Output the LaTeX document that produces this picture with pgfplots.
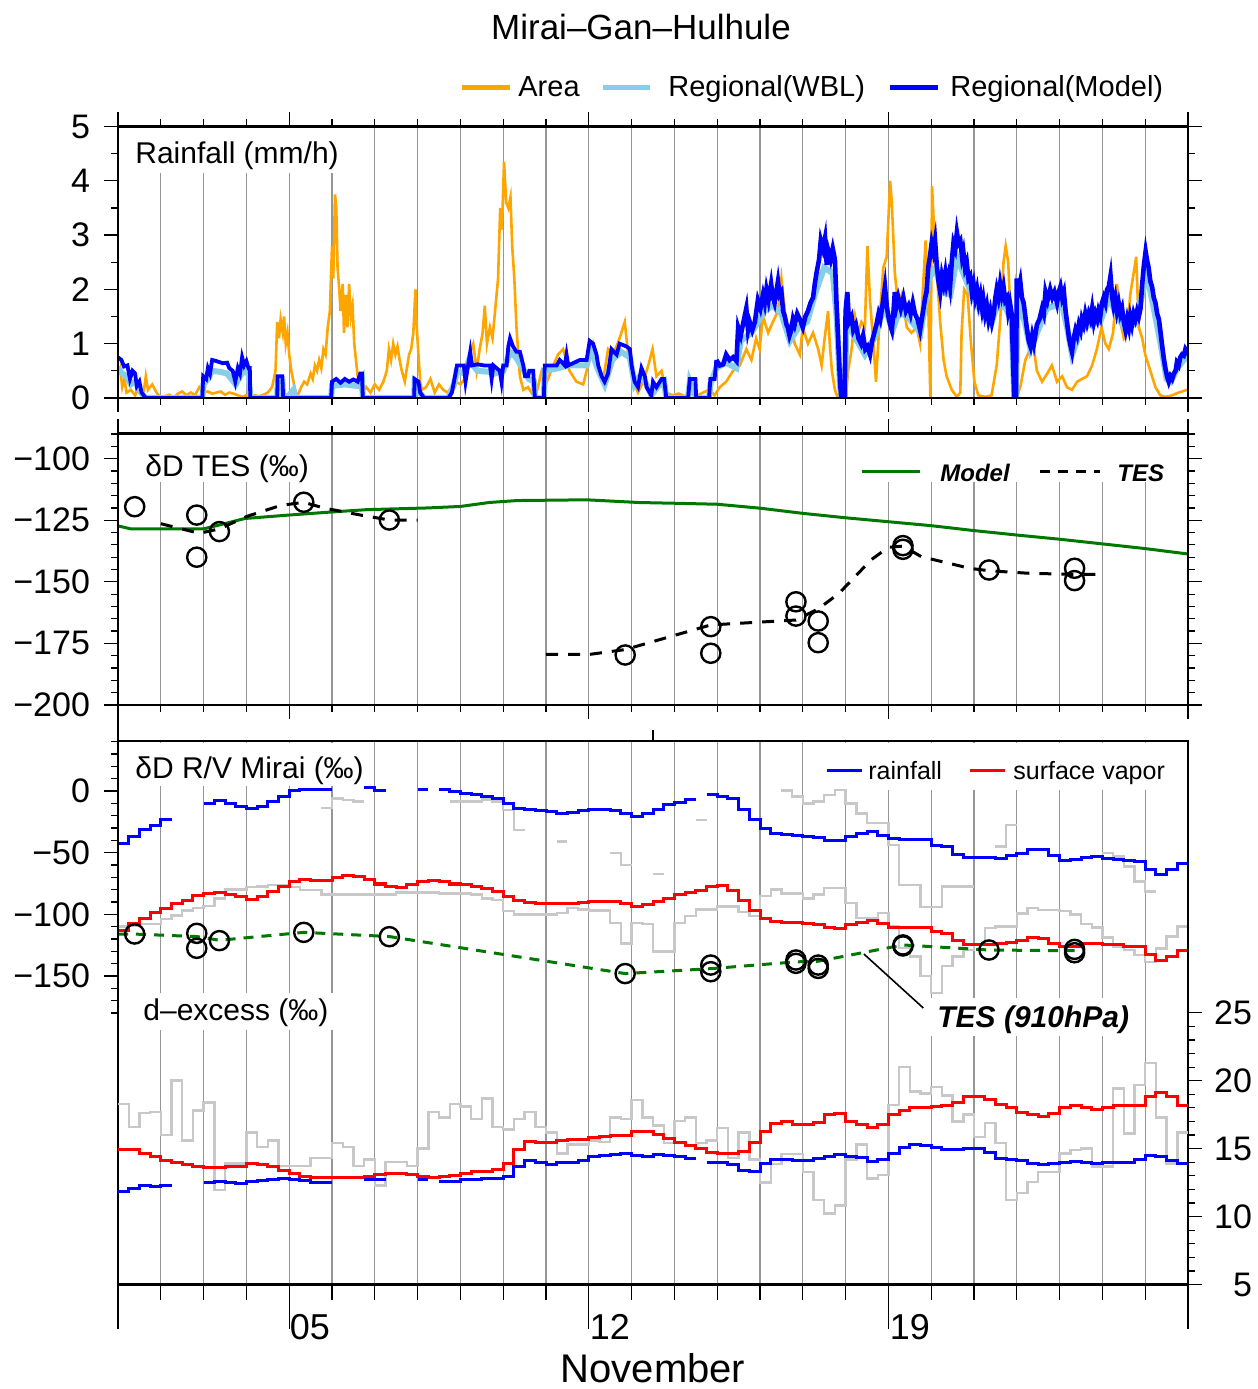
\documentclass[border=0pt]{standalone}
\usepackage{pgfplots}
\pgfplotsset{compat=1.18}
\usepackage{pgfplotstable}
\usepackage{fontspec}
\setmainfont{Liberation Sans}

\definecolor{cArea}{RGB}{255,165,0}
\definecolor{cWBL}{RGB}{135,206,235}
\definecolor{cModel}{RGB}{0,0,255}
\definecolor{cRed}{RGB}{255,0,0}
\definecolor{cGreen}{RGB}{0,120,0}
\definecolor{cGrid}{RGB}{150,150,150}
\definecolor{cLight}{RGB}{200,200,200}

\newcommand{\fsz}[1]{\fontsize{#1}{#1}\selectfont}
\tikzset{gridline/.style={cGrid, line width=0.6pt}}

% ---------------- rainfall (mm/h) ----------------
\pgfplotstableread{
x y
1.00 0.45
1.05 0.55
1.10 0.20
1.15 0.35
1.20 0.10
1.30 0.15
1.40 0.05
1.50 0.20
1.60 0.10
1.65 0.40
1.70 0.15
1.80 0.25
1.90 0.10
2.00 0.00
2.10 0.03
2.20 0.06
2.30 0.00
2.40 0.08
2.50 0.12
2.60 0.05
2.70 0.10
2.80 0.05
2.90 0.20
3.00 0.10
3.10 0.12
3.20 0.08
3.30 0.10
3.40 0.12
3.50 0.06
3.60 0.10
3.70 0.08
3.80 0.05
3.90 0.02
4.00 0.05
4.10 0.02
4.20 0.05
4.30 0.03
4.40 0.06
4.50 0.10
4.60 0.20
4.68 0.50
4.72 1.40
4.76 1.10
4.80 1.45
4.85 1.20
4.88 1.50
4.92 1.00
4.96 1.20
5.00 0.80
5.05 0.50
5.10 0.30
5.15 0.10
5.20 0.05
5.28 0.20
5.35 0.30
5.42 0.25
5.50 0.45
5.55 0.35
5.60 0.60
5.65 0.50
5.70 0.70
5.75 0.55
5.80 0.90
5.85 0.80
5.90 1.30
5.95 1.60
6.00 2.80
6.03 2.20
6.07 3.75
6.10 3.50
6.13 2.40
6.17 2.00
6.20 1.60
6.25 2.10
6.28 1.20
6.32 1.90
6.36 1.30
6.40 2.10
6.44 1.50
6.48 1.70
6.52 1.00
6.56 0.70
6.60 0.40
6.65 0.20
6.70 0.10
6.80 0.20
6.90 0.10
7.00 0.25
7.10 0.15
7.20 0.30
7.28 0.50
7.33 0.90
7.38 0.70
7.43 1.00
7.48 0.80
7.53 0.95
7.58 0.70
7.63 0.50
7.70 0.30
7.75 0.55
7.80 0.80
7.85 0.90
7.90 1.20
7.95 2.00
7.98 1.30
8.02 0.80
8.06 0.30
8.10 0.15
8.20 0.20
8.30 0.35
8.40 0.10
8.50 0.25
8.60 0.15
8.70 0.10
8.80 0.20
8.90 0.30
9.00 0.25
9.10 0.35
9.20 0.60
9.25 0.90
9.30 1.00
9.38 0.50
9.45 0.90
9.52 1.20
9.57 1.70
9.62 1.00
9.69 1.30
9.75 1.10
9.81 1.60
9.88 2.20
9.93 3.50
9.97 3.10
10.02 4.35
10.07 3.60
10.12 3.50
10.17 3.70
10.21 2.80
10.26 2.20
10.31 1.30
10.39 0.40
10.47 0.15
10.58 0.20
10.70 0.05
10.78 0.10
10.90 0.50
11.02 0.30
11.17 0.60
11.28 0.80
11.40 0.90
11.55 0.50
11.71 0.30
11.87 0.25
11.98 0.60
12.10 1.00
12.22 0.60
12.33 0.30
12.45 0.90
12.57 0.80
12.72 1.10
12.84 1.40
12.92 0.80
13.04 0.30
13.15 0.10
13.27 0.30
13.39 0.60
13.49 0.90
13.58 0.40
13.70 0.50
13.81 0.10
13.95 0.05
14.10 0.08
14.25 0.03
14.40 0.08
14.55 0.05
14.67 0.10
14.82 0.15
14.94 0.05
15.06 0.20
15.21 0.30
15.37 0.50
15.53 0.60
15.68 0.90
15.80 0.70
15.91 1.10
15.99 0.90
16.07 1.50
16.19 1.20
16.30 1.40
16.42 1.60
16.50 2.20
16.58 1.60
16.65 1.20
16.73 1.40
16.81 1.00
16.93 0.80
17.00 1.30
17.12 1.00
17.24 1.20
17.36 0.90
17.44 0.60
17.51 1.10
17.59 1.60
17.63 1.00
17.68 0.50
17.75 0.15
17.82 0.00
17.90 0.02
17.96 0.10
18.00 0.00
18.06 0.50
18.14 0.90
18.22 1.50
18.29 1.20
18.37 1.40
18.45 1.30
18.51 2.80
18.57 1.80
18.65 1.00
18.71 0.30
18.80 1.50
18.88 2.40
18.96 2.60
19.04 4.00
19.08 3.60
19.15 2.30
19.23 1.70
19.31 1.90
19.43 1.30
19.54 1.20
19.66 1.30
19.74 1.00
19.82 2.20
19.87 2.90
19.93 1.80
19.98 0.00
20.02 3.90
20.08 2.90
20.14 2.20
20.21 1.40
20.29 0.70
20.36 0.40
20.48 0.15
20.60 0.02
20.68 0.10
20.71 1.20
20.77 2.00
20.85 1.90
20.93 1.00
21.01 0.30
21.10 0.05
21.26 0.02
21.41 0.05
21.53 0.60
21.61 1.40
21.69 2.50
21.74 2.80
21.80 2.50
21.87 1.20
21.92 0.30
22.00 0.02
22.08 0.20
22.20 0.70
22.31 0.90
22.39 0.95
22.47 0.50
22.59 0.30
22.71 0.45
22.82 0.60
22.94 0.30
23.06 0.40
23.17 0.20
23.29 0.15
23.41 0.30
23.52 0.35
23.64 0.40
23.76 0.60
23.87 0.90
23.98 1.30
24.07 1.00
24.15 0.90
24.25 1.20
24.34 2.10
24.42 1.40
24.50 1.10
24.58 1.20
24.65 1.90
24.73 2.30
24.79 2.60
24.85 1.30
24.93 1.10
25.00 0.80
25.12 0.50
25.24 0.20
25.35 0.05
25.47 0.02
25.63 0.05
25.78 0.10
25.98 0.15
}\areaTab

\pgfplotstableread{
x y
1.00 0.55
1.10 0.45
1.20 0.40
1.30 0.25
1.40 0.30
1.50 0.15
1.60 0.03
1.65 0.00
2.97 0.00
3.00 0.25
3.10 0.35
3.20 0.50
3.40 0.48
3.55 0.45
3.65 0.35
3.75 0.25
3.85 0.40
3.95 0.50
4.05 0.45
4.09 0.00
4.72 0.00
4.73 0.30
4.84 0.30
4.86 0.00
5.00 0.05
5.10 0.15
5.15 0.00
5.98 0.00
6.00 0.22
6.30 0.25
6.60 0.22
6.70 0.35
6.72 0.00
7.92 0.00
7.93 0.25
8.05 0.10
8.15 0.00
8.72 0.00
8.85 0.25
8.92 0.50
9.10 0.45
9.20 0.70
9.40 0.50
9.70 0.48
9.80 0.45
10.00 0.50
10.16 0.85
10.30 0.75
10.45 0.55
10.60 0.35
10.72 0.30
10.74 0.00
10.95 0.00
10.97 0.50
11.30 0.55
11.50 0.60
11.95 0.60
12.05 0.90
12.20 0.55
12.37 0.25
12.55 0.70
12.75 0.85
12.96 0.75
13.07 0.25
13.23 0.45
13.46 0.05
13.60 0.20
13.76 0.30
13.81 0.00
14.32 0.00
14.36 0.30
14.51 0.00
14.81 0.00
14.84 0.25
14.98 0.55
15.20 0.65
15.45 0.55
15.55 1.05
15.80 1.20
16.10 1.60
16.30 1.70
16.50 1.55
16.70 1.05
16.90 1.30
17.10 1.40
17.30 1.95
17.50 2.40
17.70 2.30
17.79 1.50
17.87 0.20
17.90 0.00
17.98 0.00
18.02 1.40
18.20 1.15
18.45 0.80
18.70 1.15
18.90 1.70
19.10 1.25
19.25 1.60
19.50 1.45
19.75 1.20
19.95 2.20
20.10 2.40
20.25 1.95
20.45 1.90
20.60 2.60
20.80 2.20
21.00 1.80
21.20 1.55
21.40 1.35
21.55 1.75
21.75 1.65
21.88 1.40
21.94 0.00
21.98 0.00
22.02 1.90
22.20 1.35
22.32 0.90
22.50 1.25
22.70 1.65
22.90 1.70
23.05 1.75
23.20 1.20
23.29 0.80
23.50 1.25
23.70 1.35
23.95 1.40
24.15 1.85
24.35 1.50
24.55 1.25
24.80 1.40
24.95 2.00
25.05 2.25
25.20 1.65
25.36 1.00
25.50 0.35
25.60 0.30
25.75 0.55
25.90 0.70
26.00 0.75
}\wblTab

\pgfplotstableread{
x y
1.00 0.75
1.08 0.70
1.14 0.58
1.22 0.60
1.28 0.35
1.34 0.50
1.40 0.45
1.44 0.22
1.50 0.30
1.55 0.10
1.60 0.05
1.65 0.00
2.97 0.00
2.99 0.40
3.06 0.35
3.10 0.55
3.15 0.45
3.20 0.70
3.30 0.68
3.45 0.64
3.55 0.65
3.60 0.55
3.68 0.50
3.74 0.30
3.80 0.55
3.85 0.45
3.90 0.75
3.95 0.60
4.00 0.68
4.05 0.55
4.08 0.55
4.09 0.00
4.72 0.00
4.73 0.40
4.84 0.40
4.86 0.00
5.98 0.00
6.00 0.30
6.10 0.35
6.20 0.28
6.30 0.35
6.40 0.30
6.50 0.34
6.60 0.30
6.66 0.45
6.70 0.45
6.72 0.00
7.92 0.00
7.93 0.35
8.02 0.30
8.06 0.10
8.15 0.00
8.72 0.00
8.80 0.10
8.85 0.30
8.92 0.60
9.08 0.60
9.12 0.30
9.18 0.60
9.23 0.85
9.27 0.60
9.40 0.62
9.55 0.60
9.69 0.60
9.73 0.35
9.77 0.60
9.92 0.50
9.96 0.30
10.00 0.60
10.08 0.60
10.12 0.95
10.16 1.10
10.23 0.95
10.31 0.85
10.39 0.85
10.47 0.60
10.51 0.40
10.58 0.40
10.61 0.50
10.70 0.50
10.74 0.00
10.95 0.00
10.97 0.60
11.25 0.60
11.32 0.70
11.44 0.60
11.48 0.80
11.52 0.60
11.79 0.70
11.95 0.70
12.02 1.05
12.10 1.00
12.18 0.80
12.22 0.60
12.30 0.40
12.37 0.30
12.45 0.45
12.53 0.90
12.65 0.80
12.72 1.00
12.88 0.95
12.96 0.90
13.00 0.60
13.07 0.30
13.15 0.20
13.23 0.55
13.31 0.40
13.35 0.20
13.46 0.05
13.50 0.30
13.58 0.20
13.70 0.35
13.76 0.35
13.81 0.00
14.32 0.00
14.36 0.35
14.49 0.35
14.51 0.00
14.81 0.00
14.84 0.35
14.94 0.35
14.98 0.70
}\modelTabA

\pgfplotstableread{
x y
14.98 0.70
15.06 0.60
15.14 0.62
15.21 0.80
15.29 0.70
15.37 0.75
15.45 0.68
15.49 1.30
15.55 1.15
15.60 1.35
15.68 1.65
15.72 1.25
15.76 1.40
15.82 1.25
15.88 1.40
15.95 1.80
16.01 1.65
16.07 1.90
16.11 1.75
16.15 2.00
16.20 1.80
16.26 2.10
16.30 1.85
16.34 1.75
16.42 2.15
16.46 1.90
16.50 1.95
16.54 1.60
16.58 1.50
16.62 1.35
16.65 1.30
16.69 1.15
16.73 1.25
16.77 1.45
16.81 1.35
16.87 1.55
16.93 1.45
17.00 1.30
17.06 1.50
17.12 1.60
17.18 1.75
17.24 1.85
17.28 2.10
17.32 2.30
17.38 2.55
17.42 2.90
17.47 2.75
17.52 2.95
17.56 2.45
17.60 2.70
17.65 2.55
17.70 2.75
17.75 2.55
17.79 1.70
17.83 1.00
17.87 0.30
17.90 0.00
17.98 0.00
18.00 1.60
18.04 1.95
18.08 1.40
18.14 1.50
18.18 1.25
18.24 1.35
18.30 1.10
18.36 1.00
18.41 1.15
18.46 0.90
18.51 0.95
18.57 0.80
18.62 1.05
18.67 1.20
18.72 1.35
18.77 1.55
18.81 1.45
18.86 1.70
18.92 2.05
18.96 1.70
19.00 1.50
19.04 1.35
19.08 1.25
19.12 1.60
19.15 1.95
19.19 1.70
19.23 1.85
19.29 1.65
19.35 1.85
19.41 1.60
19.47 1.70
19.52 1.55
19.57 1.75
19.62 1.55
19.68 1.45
19.74 1.25
19.78 1.45
19.82 1.65
19.86 1.85
19.89 1.95
19.93 2.40
19.97 2.60
20.01 2.85
20.05 2.70
20.09 2.90
20.13 2.45
20.17 2.15
20.21 1.95
20.25 2.25
20.29 2.10
20.33 2.30
20.36 2.10
20.40 2.25
20.44 2.05
20.48 2.50
20.52 2.85
20.56 2.75
20.60 3.05
20.64 2.85
20.68 2.90
20.72 2.60
20.75 2.70
20.79 2.40
20.83 2.50
20.87 2.20
20.91 2.25
20.95 1.95
20.99 2.10
21.03 1.85
21.07 2.00
21.11 1.75
21.15 1.90
21.19 1.65
21.22 1.80
21.26 1.55
21.30 1.70
21.34 1.45
21.38 1.60
21.42 1.40
21.46 1.55
21.50 1.85
21.53 2.00
21.57 1.85
21.61 2.10
21.65 1.90
21.69 2.05
21.73 1.80
21.77 1.85
21.80 1.60
21.84 1.75
21.88 1.55
21.92 0.50
21.94 0.00
21.98 0.00
22.00 2.20
22.04 2.00
22.08 2.15
22.12 1.85
22.16 1.75
22.20 1.50
22.24 1.25
22.28 1.05
22.32 0.95
22.36 1.15
22.40 1.00
22.44 1.20
22.47 1.35
22.53 1.45
22.59 1.65
22.63 1.55
22.67 1.95
22.72 1.80
22.78 2.00
22.83 1.85
22.88 1.95
22.94 1.75
22.98 1.95
23.02 2.05
23.06 1.85
23.10 1.95
23.14 1.60
23.18 1.35
23.22 1.10
23.26 0.95
23.29 0.85
23.33 1.10
23.37 1.25
23.41 1.15
23.45 1.35
23.49 1.25
23.52 1.45
23.56 1.35
23.60 1.55
23.64 1.40
23.68 1.55
23.72 1.45
23.76 1.65
23.80 1.40
23.84 1.55
23.88 1.45
23.91 1.60
23.95 1.50
23.99 1.75
24.03 1.85
24.07 1.75
24.11 2.00
24.15 2.05
24.19 2.25
24.23 1.85
24.26 1.70
24.30 1.85
24.34 1.60
24.38 1.75
24.42 1.55
24.46 1.65
24.50 1.40
24.54 1.25
24.58 1.45
24.62 1.30
24.65 1.50
24.69 1.35
24.73 1.55
24.77 1.45
24.81 1.60
24.85 1.50
24.89 1.65
24.93 2.10
24.97 2.45
25.01 2.70
25.04 2.55
25.08 2.40
25.12 2.15
25.16 2.05
25.20 1.85
25.24 1.75
25.28 1.55
25.32 1.45
25.36 1.20
25.39 1.00
25.43 0.75
25.47 0.55
25.51 0.40
25.55 0.30
25.59 0.40
25.63 0.35
25.67 0.45
25.71 0.50
25.74 0.65
25.78 0.60
25.82 0.75
25.86 0.80
25.90 0.78
25.94 0.90
25.98 0.85
26.00 0.90
}\modelTabB

% ---------------- dD TES (permil) ----------------
\pgfplotstableread{
x y
1.00 -127.3
1.30 -128.5
2.00 -128.5
3.00 -128.5
3.58 -126.0
3.96 -124.3
4.91 -123.0
5.86 -121.8
6.81 -120.7
8.24 -120.0
9.00 -119.4
9.67 -117.8
10.33 -117.0
11.95 -116.7
13.17 -117.8
14.00 -118.1
15.00 -118.5
16.00 -120.1
17.00 -122.2
18.00 -124.0
19.00 -125.6
20.00 -127.2
21.00 -129.2
22.00 -131.0
23.00 -132.7
24.00 -134.6
25.00 -136.5
26.00 -138.7
}\tesModelTab

\pgfplotstableread{
x y
2.00 -126.4
2.90 -130.3
3.37 -128.5
4.00 -123.5
4.80 -119.0
5.34 -117.7
5.80 -120.0
6.70 -123.0
7.34 -124.9
8.00 -124.9
9.50 nan
11.00 -179.5
12.00 -179.5
12.85 -177.5
14.85 -167.5
16.84 -165.5
17.36 -161.0
17.85 -154.6
18.60 -141.0
19.00 -136.0
19.34 -135.5
19.77 -139.8
20.90 -144.5
21.35 -145.5
22.25 -146.5
23.35 -147.0
24.00 -147.0
}\tesMeanTab

\pgfplotstableread{
x y
1.39 -119.5
2.84 -122.9
2.84 -140.0
3.37 -129.6
5.34 -117.7
7.34 -124.9
12.85 -179.7
14.85 -168.2
14.85 -179.0
16.84 -158.1
16.84 -163.9
17.36 -165.9
17.36 -174.7
19.34 -135.3
19.34 -136.8
21.35 -145.2
23.35 -144.5
23.35 -149.5
}\tesObsTab

% ---------------- dD R/V Mirai (permil) ----------------
\pgfplotstableread{
x y
1.00 -42.4
1.25 -37.0
1.50 -31.6
1.75 -27.6
2.00 -23.0
2.25 -23.0
2.50 nan
3.00 -10.0
3.25 -8.1
3.50 -10.0
3.75 -12.2
4.00 -14.3
4.25 -12.7
4.50 -8.6
4.75 -4.6
5.00 0.0
5.25 0.8
5.50 0.8
5.75 0.8
6.00 0.8
6.25 nan
6.75 3.0
7.00 0.0
7.25 0.0
7.50 nan
8.00 0.8
8.25 0.8
8.40 nan
8.50 0.8
8.75 -0.5
9.00 -1.9
9.25 -3.2
9.50 -4.6
9.75 -5.9
10.00 -10.0
10.25 -14.0
10.50 -15.4
10.75 -16.2
11.00 -16.7
11.25 -18.1
11.50 -17.5
11.75 -16.2
12.00 -15.4
12.25 -15.4
12.50 -16.2
12.75 -18.6
13.00 -20.3
13.25 -18.1
13.50 -15.4
13.75 -11.3
14.00 -9.5
14.25 -6.8
14.50 -6.8
14.60 nan
14.75 -3.2
15.00 -4.1
15.25 -5.9
15.50 -14.9
15.75 -23.5
16.00 -30.8
16.25 -34.3
16.50 -34.9
16.75 -35.7
17.00 -36.5
17.25 -37.6
17.50 -39.8
17.75 -40.3
18.00 -36.5
18.25 -34.3
18.50 -33.0
18.75 -35.7
19.00 -38.4
19.25 -39.2
19.50 -39.2
19.75 -39.2
20.00 -43.8
20.25 -45.1
20.50 -51.1
20.75 -53.8
21.00 -54.0
21.25 -54.0
21.50 -54.6
21.75 -52.7
22.00 -50.5
22.25 -47.8
22.50 -47.8
22.75 -51.9
23.00 -56.7
23.25 -55.9
23.50 -54.0
23.75 -53.2
24.00 -54.6
24.25 -55.9
24.50 -56.5
24.75 -57.2
25.00 -64.0
25.25 -67.3
25.50 -64.0
25.75 -58.6
26.00 -58.6
}\rainDTab

\pgfplotstableread{
x y
1.00 -112.7
1.25 -107.3
1.50 -103.2
1.75 -98.6
2.00 -95.1
2.25 -91.6
2.50 -88.4
2.75 -85.1
3.00 -83.0
3.25 -82.4
3.50 -84.3
3.75 -85.6
4.00 -87.8
4.25 -85.6
4.50 -81.6
4.75 -77.5
5.00 -73.5
5.25 -71.6
5.50 -72.2
5.75 -72.2
6.00 -70.0
6.25 -68.9
6.50 -69.5
6.75 -71.6
7.00 -75.4
7.25 -77.5
7.50 -78.1
7.75 -76.2
8.00 -73.5
8.25 -72.2
8.50 -73.5
8.75 -75.4
9.00 -76.2
9.25 -77.5
9.50 -78.9
9.75 -81.1
10.00 -85.6
10.25 -88.9
10.50 -90.6
10.75 -91.1
11.00 -91.1
11.25 -91.6
11.50 -91.1
11.75 -90.6
12.00 -89.7
12.25 -89.2
12.50 -89.7
12.75 -91.6
13.00 -93.8
13.25 -92.4
13.50 -89.7
13.75 -87.0
14.00 -84.3
14.25 -82.4
14.50 -80.3
14.75 -77.5
15.00 -77.0
15.25 -80.3
15.50 -88.4
15.75 -96.5
16.00 -103.2
16.25 -105.9
16.50 -106.7
16.75 -106.7
17.00 -107.3
17.25 -108.6
17.50 -110.5
17.75 -111.3
18.00 -108.1
18.25 -106.7
18.50 -105.1
18.75 -107.3
19.00 -110.5
19.25 -110.5
19.50 -110.5
19.75 -110.5
20.00 -114.0
20.25 -115.9
20.50 -121.3
20.75 -124.8
21.00 -124.8
21.25 -124.8
21.50 -123.5
21.75 -122.9
22.00 -120.8
22.25 -118.6
22.50 -119.4
22.75 -123.5
23.00 -126.2
23.25 -126.2
23.50 -124.0
23.75 -124.0
24.00 -124.8
24.25 -124.8
24.50 -126.2
24.75 -126.2
25.00 -132.2
25.25 -137.0
25.50 -133.8
25.75 -128.9
26.00 -128.9
}\vapDTab

\pgfplotstableread{
x y
5.75 -14.0
6.00 -6.0
6.25 -7.5
6.50 -8.5
6.75 -8.5
6.80 nan
8.75 -8.6
9.00 -8.6
9.25 -8.6
9.50 -7.0
9.75 -8.6
10.00 -15.4
10.25 -31.6
10.50 -31.6
10.60 nan
11.25 -41.0
11.50 -41.0
11.60 nan
12.50 -50.5
12.75 -60.0
13.00 -60.0
13.10 nan
13.50 -67.3
13.75 -67.3
13.80 nan
14.50 -23.5
14.75 -23.5
14.80 nan
16.50 0.3
16.75 -4.6
17.00 -10.0
17.25 -8.6
17.50 -3.2
17.75 0.8
18.00 -10.0
18.25 -18.1
18.50 -26.2
18.75 -26.2
19.00 -43.8
19.25 -76.2
19.50 -76.2
19.75 -93.8
20.00 -93.8
20.25 -77.5
20.50 -77.5
20.75 -77.5
21.00 -77.5
21.10 nan
21.50 -45.1
21.75 -27.6
22.00 -27.6
22.10 nan
24.00 -50.5
24.25 -53.2
24.50 -61.3
24.75 -73.5
25.00 -81.6
25.25 -81.6
}\grayRainDTab

\pgfplotstableread{
x y
1.00 -110.0
1.25 -109.0
1.50 -108.0
1.75 -108.0
2.00 -104.0
2.25 -101.0
2.50 -97.0
2.75 -95.0
3.00 -93.0
3.25 -87.0
3.50 -80.0
3.75 -79.7
4.00 -78.0
4.25 -77.5
4.50 -76.2
4.75 -76.2
5.00 -78.0
5.25 -80.3
5.50 -80.3
5.75 -83.8
6.00 -83.8
6.50 -83.8
7.00 -83.8
7.50 -82.4
8.00 -82.4
8.50 -83.0
9.00 -83.0
9.25 -84.0
9.50 -87.0
9.75 -88.4
10.00 -97.3
10.25 -100.0
10.50 -100.0
10.75 -100.0
11.00 -100.0
11.25 -99.0
11.50 -95.0
11.75 -96.0
12.00 -97.0
12.25 -97.0
12.50 -107.0
12.75 -123.5
13.00 -107.0
13.25 -108.0
13.50 -130.0
13.75 -130.0
14.00 -107.0
14.25 -101.5
14.50 -96.0
14.75 -96.0
15.00 -93.5
15.25 -93.5
15.50 -98.0
15.75 -101.5
16.00 -85.0
16.25 -80.0
16.50 -83.0
16.75 -83.0
17.00 -87.0
17.25 -84.0
17.50 -78.5
17.75 -78.5
18.00 -90.7
18.25 -102.9
18.50 -102.9
18.75 -99.0
19.00 -110.0
19.25 -127.5
19.50 -134.0
19.75 -150.0
20.00 -163.9
20.25 -142.0
20.50 -134.0
20.75 -129.0
21.00 -125.0
21.25 -111.0
21.50 -110.0
21.75 -110.0
22.00 -99.2
22.25 -95.0
22.50 -96.3
22.75 -96.3
23.00 -97.5
23.25 -100.0
23.50 -108.0
23.75 -110.5
24.00 -118.6
24.25 -126.7
24.50 -129.0
24.75 -133.0
25.00 -138.5
25.25 -127.6
25.50 -118.0
25.75 -110.0
26.00 -110.0
}\grayVapDTab

\pgfplotstableread{
x y
1.00 -116.0
1.39 -116.0
2.84 -118.0
3.37 -121.0
5.34 -114.6
7.34 -118.0
12.85 -148.0
14.85 -144.0
16.84 -138.5
17.36 -138.0
19.34 -124.8
21.35 -128.9
23.35 -129.5
}\tesLowTab

\pgfplotstableread{
x y
1.39 -115.9
2.84 -115.4
2.84 -127.5
3.37 -121.3
5.34 -114.6
7.34 -118.1
12.85 -148.0
14.85 -141.1
14.85 -146.5
16.84 -137.0
16.84 -139.7
17.36 -141.1
17.36 -143.8
19.34 -124.8
19.34 -125.6
21.35 -128.9
23.35 -128.4
23.35 -131.1
}\tesLowObsTab

% ---------------- d-excess (permil) ----------------
\pgfplotstableread{
x y
1.00 14.97
1.25 14.90
1.50 14.65
1.75 14.40
2.00 14.15
2.25 13.95
2.50 13.85
2.75 13.65
3.00 13.60
3.25 13.60
3.50 13.67
3.75 13.70
4.00 13.90
4.25 13.85
4.50 13.67
4.75 13.40
5.00 13.15
5.25 12.95
5.50 12.90
5.75 12.85
6.00 12.85
6.25 12.88
6.50 12.88
6.75 12.93
7.00 13.10
7.25 13.20
7.50 13.15
7.75 13.10
8.00 12.95
8.25 12.85
8.50 12.93
8.75 13.05
9.00 13.20
9.25 13.30
9.50 13.35
9.75 13.45
10.00 13.90
10.25 14.90
10.50 15.50
10.75 15.43
11.00 15.43
11.25 15.60
11.50 15.65
11.75 15.65
12.00 15.80
12.25 15.90
12.50 15.93
12.75 16.00
13.00 16.25
13.25 16.25
13.50 16.05
13.75 15.75
14.00 15.45
14.25 15.20
14.50 15.00
14.75 14.70
15.00 14.65
15.25 14.65
15.50 14.77
15.75 15.45
16.00 16.25
16.25 16.85
16.50 17.00
16.75 16.80
17.00 16.80
17.25 16.90
17.50 17.50
17.75 17.60
18.00 17.00
18.25 16.80
18.50 16.55
18.75 16.80
19.00 17.50
19.25 17.80
19.50 18.00
19.75 18.00
20.00 18.10
20.25 18.15
20.50 18.40
20.75 18.80
21.00 18.80
21.25 18.60
21.50 18.28
21.75 18.04
22.00 17.65
22.25 17.50
22.50 17.35
22.75 17.60
23.00 18.04
23.25 18.15
23.50 18.00
23.75 17.90
24.00 18.04
24.25 18.15
24.50 18.15
24.75 18.20
25.00 18.80
25.25 19.15
25.50 18.80
25.75 18.20
26.00 18.20
}\vapDxTab

\pgfplotstableread{
x y
1.00 11.83
1.25 12.08
1.50 12.25
1.75 12.20
2.00 12.27
2.25 12.27
2.50 nan
3.00 12.50
3.25 12.57
3.50 12.50
3.75 12.45
4.00 12.57
4.25 12.62
4.50 12.70
4.75 12.80
5.00 12.72
5.25 12.65
5.50 12.50
5.75 12.50
6.00 12.50
6.25 nan
6.75 12.70
7.00 12.70
7.25 12.70
7.50 nan
8.00 12.70
8.25 12.70
8.40 nan
8.50 12.57
8.75 12.57
9.00 12.70
9.25 12.75
9.50 12.80
9.75 12.80
10.00 12.95
10.25 13.65
10.50 14.15
10.75 13.95
11.00 13.85
11.25 13.95
11.50 14.00
11.75 14.10
12.00 14.40
12.25 14.50
12.50 14.55
12.75 14.65
13.00 14.50
13.25 14.45
13.50 14.57
13.75 14.47
14.00 14.40
14.25 14.30
14.50 14.30
14.60 nan
14.75 14.00
15.00 14.00
15.25 13.85
15.50 13.40
15.75 13.35
16.00 13.90
16.25 14.20
16.50 14.20
16.75 14.15
17.00 14.15
17.25 14.25
17.50 14.45
17.75 14.57
18.00 14.45
18.25 14.35
18.50 14.05
18.75 14.20
19.00 14.65
19.25 15.10
19.50 15.30
19.75 15.20
20.00 15.10
20.25 14.90
20.50 14.90
20.75 15.00
21.00 15.00
21.25 14.70
21.50 14.30
21.75 14.20
22.00 14.10
22.25 13.90
22.50 13.85
22.75 13.90
23.00 14.00
23.25 14.05
23.50 13.97
23.75 13.90
24.00 13.95
24.25 14.00
24.50 13.97
24.75 14.20
25.00 14.47
25.25 14.40
25.50 14.10
25.75 13.90
26.00 13.90
}\rainDxTab

\pgfplotstableread{
x y
1.00 18.30
1.25 16.60
1.50 17.60
1.75 17.70
2.00 16.00
2.25 20.00
2.50 15.60
2.75 17.80
3.00 18.40
3.25 11.95
3.50 13.90
3.75 13.90
4.00 16.20
4.25 15.10
4.50 15.60
4.75 13.70
5.00 13.70
5.25 13.70
5.50 14.30
5.75 14.30
6.00 15.40
6.25 15.10
6.50 13.70
6.75 14.20
7.00 12.30
7.25 14.00
7.50 14.00
7.75 13.70
8.00 15.00
8.25 17.70
8.50 17.30
8.75 18.30
9.00 18.10
9.25 17.20
9.50 18.70
9.75 16.60
10.00 16.40
10.25 17.20
10.50 17.70
10.75 16.60
11.00 16.20
11.25 14.65
11.50 15.30
11.75 15.30
12.00 15.60
12.25 15.50
12.50 17.30
12.75 17.20
13.00 18.60
13.25 17.30
13.50 16.70
13.75 15.40
14.00 17.05
14.25 17.30
14.50 15.40
14.75 15.60
15.00 16.50
15.25 14.30
15.50 16.20
15.75 14.20
16.00 12.50
16.25 13.86
16.50 14.60
16.75 14.60
17.00 13.30
17.25 11.20
17.50 10.23
17.75 10.80
18.00 14.20
18.25 15.30
18.50 12.80
18.75 13.05
19.00 18.20
19.25 21.00
19.50 19.20
19.75 19.06
20.00 19.55
20.25 18.90
20.50 17.00
20.75 17.50
21.00 15.87
21.25 16.90
21.50 15.40
21.75 11.20
22.00 11.75
22.25 12.56
22.50 13.30
22.75 13.30
23.00 14.65
23.25 14.90
23.50 15.00
23.75 13.67
24.00 13.67
24.25 19.43
24.50 16.10
24.75 19.70
25.00 21.30
25.25 17.30
25.50 13.90
25.75 16.20
26.00 16.20
}\grayDxTab

\pgfplotsset{
  panel/.style={
    scale only axis, width=535pt, xmin=1, xmax=26,
    axis on top,
    axis line style={line width=1.3pt},
    tick style={black, line width=0.6pt},
    tick align=outside,
    major tick length=7pt, minor tick length=3.5pt,
    xtick={1,5,12,19,26}, minor xtick={2,...,25}, xticklabels={},
    xtick pos=both, ytick pos=both, yticklabel pos=left,
    yticklabel style={font=\fsz{17}, xshift=-3.5pt},
    unbounded coords=jump,
  },
}

\begin{document}
\begin{tikzpicture}
\path[use as bounding box] (0,0) rectangle (629pt,694.5pt);

% ===== rainfall panel =====
\begin{axis}[panel, at={(59pt,495.5pt)}, anchor=south west, height=135.75pt,
  ymin=0, ymax=5, ytick={0,1,2,3,4,5}, minor ytick={0.5,1.5,2.5,3.5,4.5},
  yticklabels={0,1,2,3,4,5}]
  \pgfplotsinvokeforeach{2,...,25}{\draw[gridline] (axis cs:#1,0) -- (axis cs:#1,5);}
  \fill[white] (rel axis cs:0.0014,0.994) rectangle (rel axis cs:0.212,0.829);
  \addplot[cArea, line width=1.3pt] table {\areaTab};
  \addplot[cWBL, line width=3.0pt] table {\wblTab};
  \addplot[cModel, line width=1.9pt] table {\modelTabA};
  \addplot[cModel, line width=2.3pt] table {\modelTabB};
\end{axis}

% ===== TES panel =====
\begin{axis}[panel, at={(59pt,342pt)}, anchor=south west, height=135.85pt,
  ymin=-200, ymax=-89.7, ytick={-200,-175,-150,-125,-100},
  yticklabels={−200,−175,−150,−125,−100}, minor ytick={-195,-190,...,-90}]
  \pgfplotsinvokeforeach{2,...,25}{\draw[gridline] (axis cs:#1,-200) -- (axis cs:#1,-89.7);}
  \fill[white] (rel axis cs:0.0014,0.994) rectangle (rel axis cs:0.187,0.821);
  \fill[white] (rel axis cs:0.684,0.994) rectangle (rel axis cs:0.9986,0.821);
  \addplot[cGreen, line width=1.5pt] table {\tesModelTab};
  \addplot[black, line width=1.5pt, dash pattern=on 6pt off 5pt] table {\tesMeanTab};
  \addplot[only marks, mark=o, mark size=4.8pt, mark options={black, line width=1.2pt}] table {\tesObsTab};
\end{axis}

% ===== R/V Mirai panel: dD on the left axis =====
\begin{axis}[panel, at={(59pt,52.25pt)}, anchor=south west, height=271.75pt,
  ymin=-400, ymax=40.5, ytick={-150,-100,-50,0},
  yticklabels={−150,−100,−50,0}, minor ytick={-180,-170,...,40},
  ytick pos=left, xtick pos=bottom,
  xtick style={/pgfplots/major tick length=22pt},
  minor x tick style={/pgfplots/minor tick length=7.5pt}]
  \pgfplotsinvokeforeach{2,...,25}{\draw[gridline] (axis cs:#1,-400) -- (axis cs:#1,40.5);}
  \fill[white] (rel axis cs:0.0014,0.997) rectangle (rel axis cs:0.231,0.917);
  \fill[white] (rel axis cs:0.651,0.997) rectangle (rel axis cs:0.9986,0.91);
  \fill[white] (rel axis cs:0.0014,0.536) rectangle (rel axis cs:0.207,0.468);
  \fill[white] (rel axis cs:0.759,0.527) rectangle (rel axis cs:0.946,0.457);
  \addplot[cLight, line width=1.2pt, const plot] table {\grayRainDTab};
  \addplot[cLight, line width=1.2pt, const plot] table {\grayVapDTab};
  \addplot[cModel, line width=1.5pt, const plot] table {\rainDTab};
  \addplot[cRed, line width=1.5pt, const plot] table {\vapDTab};
  \addplot[cGreen, line width=1.5pt, dash pattern=on 5pt off 4pt] table {\tesLowTab};
  \addplot[only marks, mark=o, mark size=4.8pt, mark options={black, line width=1.2pt}] table {\tesLowObsTab};
\end{axis}

% ===== R/V Mirai panel: d-excess on the right axis =====
\begin{axis}[scale only axis, width=535pt, height=271.75pt,
  at={(59pt,52.25pt)}, anchor=south west, xmin=1, xmax=26, ymin=5, ymax=45,
  axis x line=none, axis y line*=right,
  axis line style={-, line width=1.3pt},
  tick style={black, line width=0.6pt}, tick align=outside,
  major tick length=7pt, minor tick length=3.5pt,
  ytick={5,10,15,20,25}, yticklabels={5,10,15,20,25}, minor ytick={6,...,24},
  yticklabel style={font=\fsz{17}, anchor=east, xshift=28.5pt}, unbounded coords=jump]
  \addplot[cLight, line width=1.2pt, const plot] table {\grayDxTab};
  \addplot[cRed, line width=1.5pt, const plot] table {\vapDxTab};
  \addplot[cModel, line width=1.5pt, const plot] table {\rainDxTab};
\end{axis}

% ===== titles, labels and legends =====
\node[anchor=base, font=\fsz{17.5}] at (320.5pt,674.5pt) {Mirai–Gan–Hulhule};

\draw[cArea, line width=2.5pt] (231pt,650.5pt) -- (255pt,650.5pt);
\node[anchor=base west, inner sep=0pt, font=\fsz{14.5}] at (259pt,646pt) {Area};
\draw[cWBL, line width=2.5pt] (301.5pt,650.5pt) -- (325pt,650.5pt);
\node[anchor=base west, inner sep=0pt, font=\fsz{14.5}] at (334pt,646pt) {Regional(WBL)};
\draw[cModel, line width=2.5pt] (445pt,650.5pt) -- (469pt,650.5pt);
\node[anchor=base west, inner sep=0pt, font=\fsz{14.5}] at (475pt,646pt) {Regional(Model)};

\node[anchor=base west, inner sep=0pt, font=\fsz{15}] at (67.5pt,612.5pt) {Rainfall (mm/h)};
\node[anchor=base west, inner sep=0pt, font=\fsz{15}] at (72.5pt,456pt) {δD TES (‰)};

\draw[cGreen, line width=1.5pt] (431pt,458.5pt) -- (460pt,458.5pt);
\node[anchor=base west, inner sep=0pt, font=\fsz{12}\bfseries\itshape] at (470pt,453.5pt) {Model};
\draw[black, line width=1.5pt, dash pattern=on 5pt off 4pt] (520pt,458.5pt) -- (550pt,458.5pt);
\node[anchor=base west, inner sep=0pt, font=\fsz{12}\bfseries\itshape] at (558.5pt,453.5pt) {TES};

\node[anchor=base west, inner sep=0pt, font=\fsz{15}] at (67.5pt,305pt) {δD R/V Mirai (‰)};
\draw[cModel, line width=1.5pt] (413.5pt,309pt) -- (431pt,309pt);
\node[anchor=base west, inner sep=0pt, font=\fsz{12.5}] at (434pt,304.5pt) {rainfall};
\draw[cRed, line width=1.5pt] (485pt,309pt) -- (502.5pt,309pt);
\node[anchor=base west, inner sep=0pt, font=\fsz{12.5}] at (506.5pt,304.5pt) {surface vapor};

\node[anchor=base west, inner sep=0pt, font=\fsz{15}] at (71.5pt,184pt) {d–excess (‰)};
\draw[black, line width=0.8pt] (431.95pt,217.5pt) -- (461.65pt,190.5pt);
\node[anchor=base west, inner sep=0pt, font=\fsz{15}\bfseries\itshape] at (468.5pt,180.5pt) {TES (910hPa)};

% connecting marks between the panels
\draw[line width=0.6pt] (59pt,342pt) -- (59pt,324pt);
\draw[line width=0.6pt] (326.5pt,324pt) -- (326.5pt,329.5pt);

% date axis
\node[anchor=base, inner sep=0pt, font=\fsz{18}] at (155pt,24.5pt) {05};
\node[anchor=base, inner sep=0pt, font=\fsz{18}] at (305pt,24.5pt) {12};
\node[anchor=base, inner sep=0pt, font=\fsz{18}] at (455pt,24.5pt) {19};
\node[anchor=base, inner sep=0pt, font=\fsz{20}] at (326.5pt,3pt) {November};
\end{tikzpicture}
\end{document}
